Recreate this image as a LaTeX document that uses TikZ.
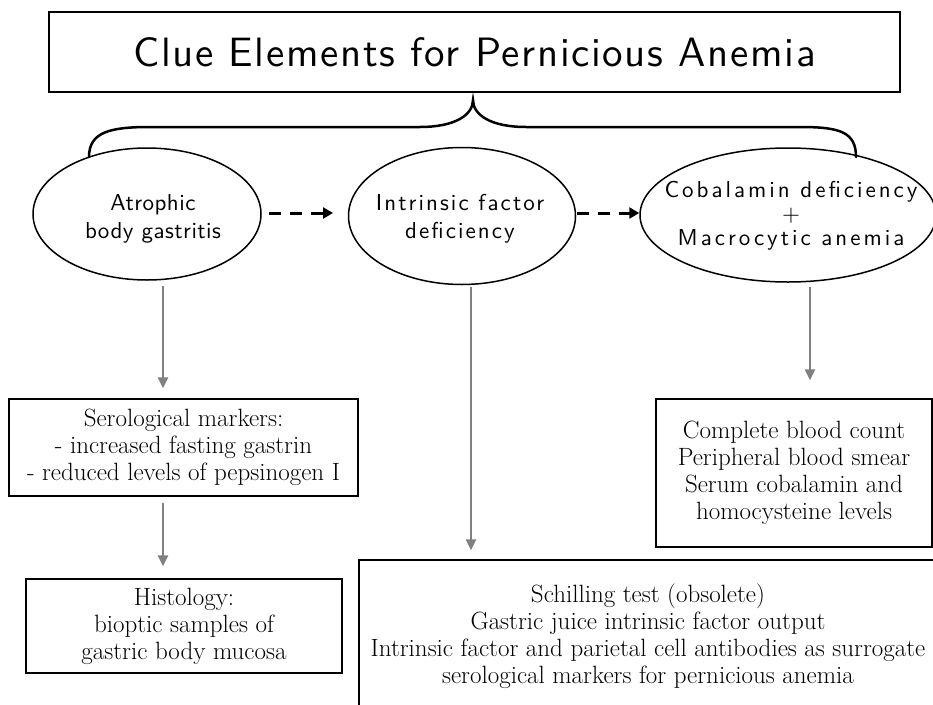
\documentclass[tikz,border=0pt]{standalone}
\usepackage{fontspec}
\usepackage{tikz}
\usetikzlibrary{shapes.geometric,calc,arrows.meta}
\newfontfamily\cluesans{lmsans10-regular.otf}[LetterSpace=4.0]
\definecolor{arrowgray}{RGB}{128,128,128}
\newcommand{\lw}{1.5pt}

\tikzset{
  titlebox/.style={draw=black,line width=\lw,rectangle,inner sep=0pt,
    minimum width=851pt,minimum height=80pt,font=\cluesans\fontsize{41}{48}\selectfont},
  clue/.style={draw=black,line width=\lw,ellipse,inner sep=0pt},
  cluetext/.style={align=center,inner sep=0pt},
  testbox/.style={draw=black,line width=\lw,rectangle,inner sep=0pt,align=center,
    font=\fontsize{25}{27}\selectfont},
  testtext/.style={align=center,inner sep=0pt,font=\fontsize{25}{27}\selectfont},
  grayarrow/.style={draw=arrowgray,line width=2.5pt,-{Triangle[length=11pt,width=10pt]}},
  dasharrow/.style={draw=black,line width=3pt,dash pattern=on 12pt off 9pt,
    -{Triangle[length=10pt,width=11pt]}},
  brace/.style={draw=black,line width=2.5pt,line cap=round}
}

\begin{document}
\begin{tikzpicture}[x=1pt,y=-1pt]
                    \useasboundingbox (0,0) rectangle (933,704);
                    \clip (0,0) rectangle (933,704);
                    % title and brace
                    \node[titlebox] (title) at (474.5,52) {Clue Elements for Pernicious Anemia};
                    \draw[brace] (89,157) .. controls (89,132) and (110,127) .. (150,127) -- (420,127)
                        .. controls (455,127) and (473,115) .. (473,100)
                        .. controls (473,115) and (491,127) .. (526,127) -- (800,127)
                        .. controls (840,127) and (856,132) .. (856,157);
                    % clue elements
                    \node[clue,minimum width=228pt,minimum height=132pt] (atro) at (147,214) {};
                    \node[clue,minimum width=227pt,minimum height=137pt] (intr) at (462,216) {};
                    \node[clue,minimum width=296pt,minimum height=134pt] (coba) at (788,215) {};
                    \node[cluetext,font=\cluesans\fontsize{23}{28}\selectfont\addfontfeature{LetterSpace=2}]
                        (atrotxt) at (153,219) {Atrophic\\body gastritis};
                    \node[cluetext,font=\cluesans\fontsize{23}{28}\selectfont\addfontfeature{LetterSpace=9}]
                        (intrtxt) at (460,219) {Intrinsic factor\\deficiency};
                    \node[cluetext,font=\cluesans\fontsize{23}{24}\selectfont\addfontfeature{LetterSpace=13}]
                        (cobatxt) at (791,216) {Cobalamin deficiency\\+\\Macrocytic anemia};
                    \draw[dasharrow] (atro.east) ++(7,-1) coordinate (d1) -- (d1 -| 333,0);
                    \draw[dasharrow] (intr.east) ++(1,-3) coordinate (d2) -- (d2 -| coba.west);
                    % tests
                    \node[testbox,minimum width=349pt,minimum height=97pt] (sero) at (183.5,447.5)
                        {Serological markers:\\- increased fasting gastrin\\- reduced levels of pepsinogen I};
                    \node[testbox,minimum width=316pt,minimum height=94pt] (hist) at (184,626)
                        {Histology:\\bioptic samples of\\gastric body mucosa};
                    \node[testbox,minimum width=276pt,minimum height=148pt] (blood) at (794,473)
                        {Complete blood count\\Peripheral blood smear\\Serum cobalamin and\\homocysteine levels};
                    \node[testbox,minimum width=620pt,minimum height=200pt] (schil) at (669,660) {};
                    \node[testtext] (schiltxt) at (648,636.5)
                        {Schilling test (obsolete)\\Gastric juice intrinsic factor output\\Intrinsic factor and parietal cell antibodies as surrogate\\serological markers for pernicious anemia};
                    % gray arrows
                    \coordinate (g1) at (163,286);
                    \coordinate (g2) at (163,503);
                    \coordinate (g3) at (471,287);
                    \coordinate (g4) at (810,287);
                    \draw[grayarrow] (g1) -- ($(g1 |- sero.north)+(0,-10)$);
                    \draw[grayarrow] (g2) -- ($(g2 |- hist.north)+(0,-12)$);
                    \draw[grayarrow] (g3) -- ($(g3 |- schil.north)+(0,-9)$);
                    \draw[grayarrow] (g4) -- ($(g4 |- blood.north)+(0,-18)$);
\end{tikzpicture}
\end{document}
